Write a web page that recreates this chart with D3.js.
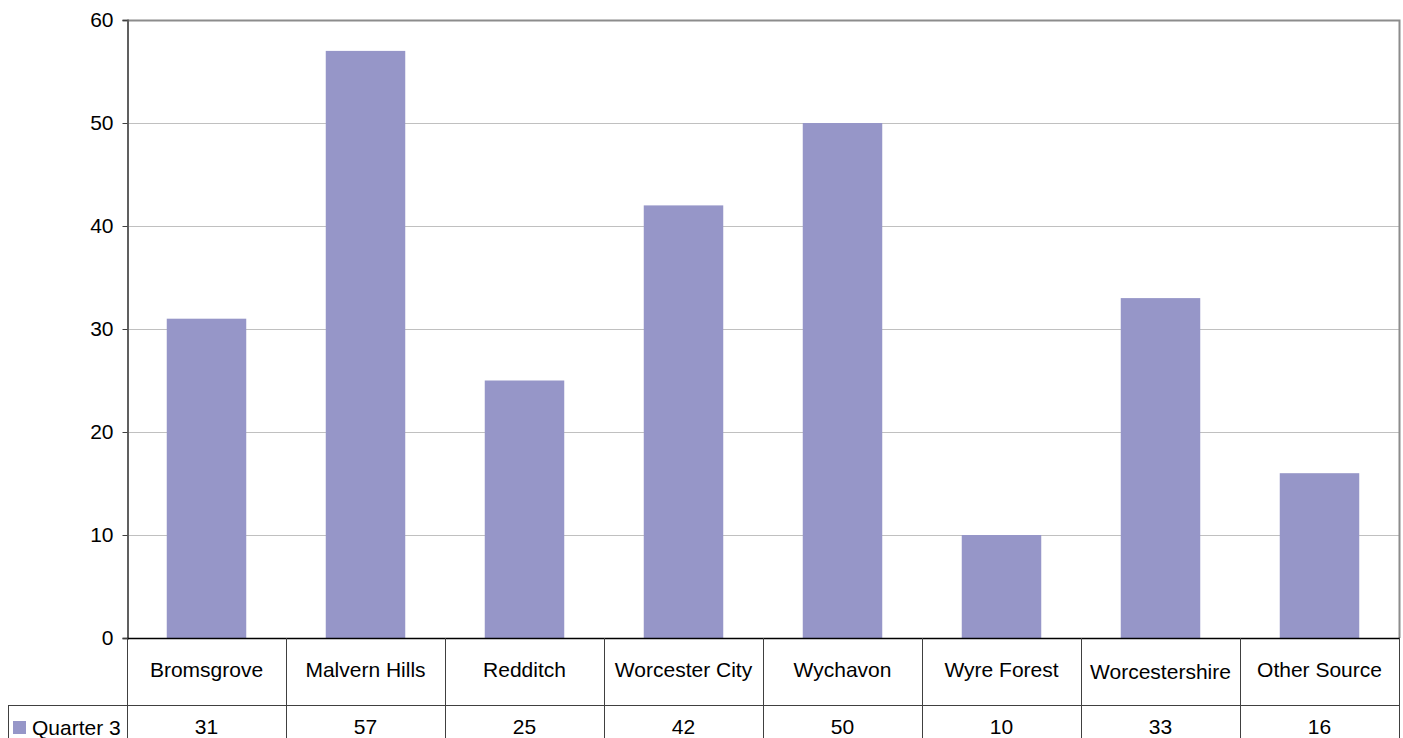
<!DOCTYPE html>
<html>
<head>
<meta charset="utf-8">
<script src="https://cdn.jsdelivr.net/npm/d3@7"></script>
<style>
  body { margin: 0; background: #fff; }
  text { font-family: "Liberation Sans", Arial, sans-serif; fill: #000; }
</style>
</head>
<body>
<script>
var categories = ["Bromsgrove", "Malvern Hills", "Redditch", "Worcester City", "Wychavon", "Wyre Forest", "Worcestershire", "Other Source"];
var seriesName = "Quarter 3";
var values = [31, 57, 25, 42, 50, 10, 33, 16];
var yTicks = [0, 10, 20, 30, 40, 50, 60];

var w = 1403, h = 738;
var plotLeft = 127, plotRight = 1399, plotTop = 20, plotBottom = 638;
var rowH = 67;
var fontSize = "21px";
var barColour = "#9696c8";

var svg = d3.select("body").append("svg")
    .attr("width", w)
    .attr("height", h);

var xScale = d3.scaleBand()
    .domain(categories)
    .range([plotLeft, plotRight])
    .paddingInner(0.5)
    .paddingOuter(0.25);

var bandStep = xScale.step();

var yScale = d3.scaleLinear()
    .domain([0, 60])
    .range([plotBottom, plotTop]);

// gridlines
svg.append("g")
    .selectAll("line")
    .data(yTicks.filter(function(d){ return d > 0; }))
    .enter()
    .append("line")
    .attr("x1", plotLeft)
    .attr("x2", plotRight)
    .attr("y1", function(d){ return yScale(d) + 0.5; })
    .attr("y2", function(d){ return yScale(d) + 0.5; })
    .attr("stroke", "#c0c0c0")
    .attr("stroke-width", 1);

// bars
svg.append("g")
    .selectAll("rect")
    .data(values)
    .enter()
    .append("rect")
    .attr("x", function(d, i){ return xScale(categories[i]); })
    .attr("width", xScale.bandwidth())
    .attr("y", function(d){ return yScale(d); })
    .attr("height", function(d){ return plotBottom - yScale(d); })
    .attr("fill", barColour);

// plot border (top, right)
svg.append("path")
    .attr("d", "M" + plotLeft + "," + (plotTop + 0.5) + "H" + (plotRight + 0.5) + "V" + plotBottom)
    .attr("fill", "none")
    .attr("stroke", "#8c8c8c")
    .attr("stroke-width", 2);

// y axis
var yAxis = d3.axisLeft(yScale)
    .tickValues(yTicks)
    .tickSize(5)
    .tickPadding(9);

var gy = svg.append("g")
    .attr("transform", "translate(" + (plotLeft + 0.5) + ",0)")
    .call(yAxis);
gy.select(".domain").attr("stroke", "#606060").attr("stroke-width", 2);
gy.selectAll(".tick line").attr("stroke", "#404040");
gy.selectAll(".tick text")
    .style("font-family", "Liberation Sans, Arial, sans-serif")
    .style("font-size", fontSize);

// data table
var table = svg.append("g");
var lineCol = "#404040";

table.append("line")
    .attr("x1", plotLeft).attr("x2", plotRight + 1)
    .attr("y1", plotBottom + 0.5).attr("y2", plotBottom + 0.5)
    .attr("stroke", "#000").attr("stroke-width", 1.5);
table.append("line")
    .attr("x1", 8).attr("x2", plotRight + 1)
    .attr("y1", plotBottom + rowH + 0.5).attr("y2", plotBottom + rowH + 0.5)
    .attr("stroke", lineCol).attr("stroke-width", 1);

var edges = d3.range(categories.length + 1).map(function(i){ return plotLeft + i * bandStep; });
table.selectAll(".vline")
    .data(edges)
    .enter()
    .append("line")
    .attr("class", "vline")
    .attr("x1", function(d){ return Math.round(d) + 0.5; })
    .attr("x2", function(d){ return Math.round(d) + 0.5; })
    .attr("y1", plotBottom)
    .attr("y2", h)
    .attr("stroke", lineCol)
    .attr("stroke-width", 1);
table.append("line")
    .attr("x1", 8.5).attr("x2", 8.5)
    .attr("y1", plotBottom + rowH).attr("y2", h)
    .attr("stroke", lineCol);

// category labels
table.selectAll(".cat")
    .data(categories)
    .enter()
    .append("text")
    .attr("class", "cat")
    .attr("x", function(d){ return xScale(d) + xScale.bandwidth() / 2; })
    .attr("y", function(d){ return d === "Worcestershire" ? 679 : 677; })
    .attr("text-anchor", "middle")
    .style("font-size", fontSize)
    .text(function(d){ return d; });

// values row
table.selectAll(".val")
    .data(values)
    .enter()
    .append("text")
    .attr("class", "val")
    .attr("x", function(d, i){ return xScale(categories[i]) + xScale.bandwidth() / 2; })
    .attr("y", 734)
    .attr("text-anchor", "middle")
    .style("font-size", fontSize)
    .text(function(d){ return d; });

// legend key
table.append("rect")
    .attr("x", 13).attr("y", 721)
    .attr("width", 13).attr("height", 13)
    .attr("fill", barColour);
table.append("text")
    .attr("x", 32).attr("y", 735)
    .style("font-size", fontSize)
    .text(seriesName);
</script>
</body>
</html>
